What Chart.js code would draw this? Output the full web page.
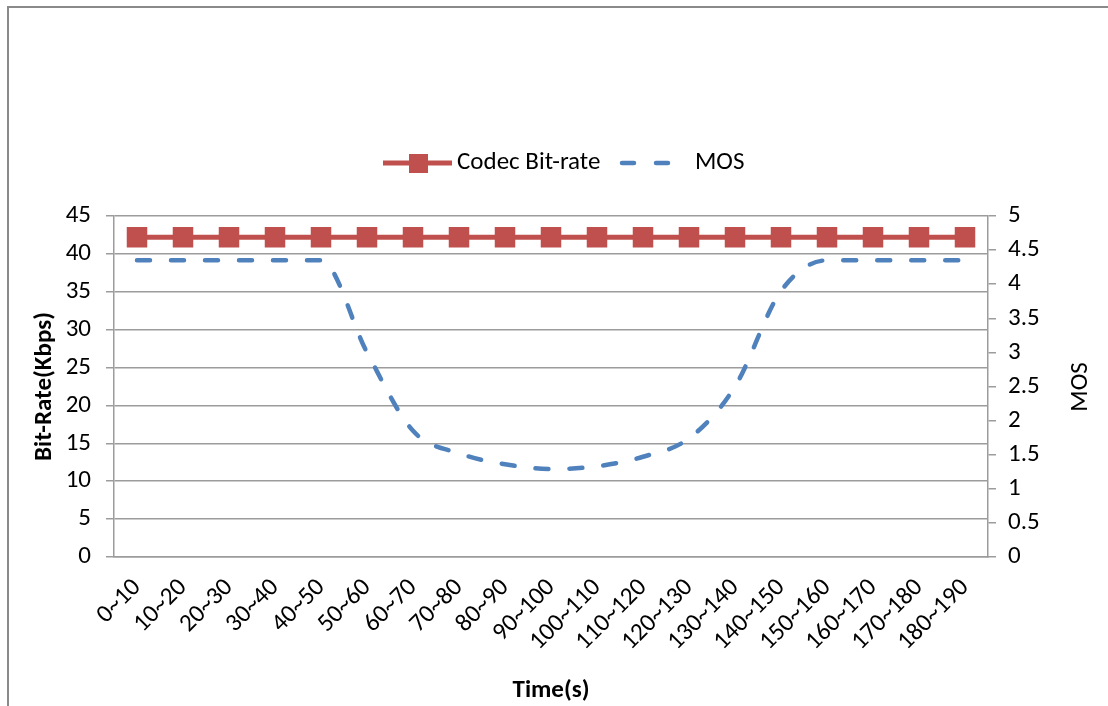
<!DOCTYPE html>
<html>
<head>
<meta charset="utf-8">
<script src="https://cdn.jsdelivr.net/npm/chart.js@4.4.0/dist/chart.umd.min.js"></script>
<style>
  html, body { margin: 0; padding: 0; background: #fff; }
  #wrap { position: relative; width: 1108px; height: 706px; }
</style>
</head>
<body>
<div id="wrap"><canvas id="c" width="1108" height="706"></canvas></div>
<script>
// Time windows (seconds)
const timeLabels = ['0~10', '10~20', '20~30', '30~40', '40~50', '50~60', '60~70', '70~80', '80~90',
  '90~100', '100~110', '110~120', '120~130', '130~140', '140~150', '150~160', '160~170',
  '170~180', '180~190'];

// Codec bit-rate per window (Kbps)
const bitRate = [42.2, 42.2, 42.2, 42.2, 42.2, 42.2, 42.2, 42.2, 42.2, 42.2,
  42.2, 42.2, 42.2, 42.2, 42.2, 42.2, 42.2, 42.2, 42.2];

// Mean opinion score per window
const mos = [4.35, 4.35, 4.35, 4.35, 4.35, 3.0, 1.85, 1.52, 1.36, 1.29,
  1.33, 1.47, 1.74, 2.5, 3.9, 4.35, 4.35, 4.35, 4.35];

const leftTicks = [0, 5, 10, 15, 20, 25, 30, 35, 40, 45];
const rightTicks = [0, 0.5, 1, 1.5, 2, 2.5, 3, 3.5, 4, 4.5, 5];

const RED = '#C0504D';
const BLUE = '#4F81BD';
const GRID = '#9c9c9c';
const FONT = 'Carlito, Lato, "Open Sans", sans-serif';
const FS = 25;

// Outer frame, legend and the right-hand axis title
const decorations = {
  id: 'decorations',
  afterDraw(chart) {
    const ctx = chart.ctx;
    ctx.save();
    // frame
    ctx.fillStyle = '#8a8a8a';
    ctx.fillRect(7, 6, 1101, 2);
    ctx.fillRect(7, 6, 2, 700);

    // legend
    const ly = 163;
    ctx.strokeStyle = RED;
    ctx.lineWidth = 5;
    ctx.beginPath(); ctx.moveTo(383, ly); ctx.lineTo(452, ly); ctx.stroke();
    ctx.fillStyle = RED;
    ctx.fillRect(409, ly - 9, 19, 19);
    ctx.fillStyle = '#000';
    ctx.font = FS + 'px ' + FONT;
    ctx.textBaseline = 'middle';
    ctx.textAlign = 'left';
    ctx.fillText('Codec Bit-rate', 457, ly);

    ctx.strokeStyle = BLUE;
    ctx.lineWidth = 4.5;
    ctx.lineCap = 'round';
    ctx.setLineDash([12, 22]);
    ctx.beginPath(); ctx.moveTo(622, ly); ctx.lineTo(672, ly); ctx.stroke();
    ctx.setLineDash([]);
    ctx.fillStyle = '#000';
    ctx.fillText('MOS', 695, ly);

    // right axis title, reading upward
    ctx.translate(1081, 387);
    ctx.rotate(-Math.PI / 2);
    ctx.textAlign = 'center';
    ctx.fillText('MOS', 0, 0);
    ctx.restore();
  }
};

new Chart(document.getElementById('c'), {
  type: 'line',
  data: {
    labels: timeLabels,
    datasets: [
      {
        label: 'Codec Bit-rate',
        data: bitRate,
        yAxisID: 'y',
        borderColor: RED,
        backgroundColor: RED,
        borderWidth: 5,
        pointStyle: 'rect',
        pointRadius: 14.5,
        pointBorderWidth: 0,
        pointBackgroundColor: RED,
        tension: 0,
        order: 1
      },
      {
        label: 'MOS',
        data: mos,
        yAxisID: 'y1',
        borderColor: BLUE,
        borderWidth: 4.5,
        borderDash: [13, 21],
        borderCapStyle: 'round',
        pointRadius: 0,
        cubicInterpolationMode: 'monotone',
        order: 2
      }
    ]
  },
  options: {
    responsive: false,
    animation: false,
    devicePixelRatio: 1,
    layout: { padding: { top: 216, left: 0, right: 0, bottom: 0 } },
    plugins: {
      legend: { display: false },
      tooltip: { enabled: false }
    },
    scales: {
      x: {
        offset: true,
        grid: { display: false, drawTicks: false },
        border: { display: true, color: GRID, width: 1.5 },
        ticks: {
          color: '#000',
          font: { family: FONT, size: FS },
          maxRotation: 45,
          minRotation: 45,
          autoSkip: false,
          padding: 16
        },
        title: {
          display: true,
          text: 'Time(s)',
          color: '#000',
          font: { family: FONT, size: FS, weight: 'bold' },
          padding: { top: 5, bottom: 0 }
        },
        afterFit(scale) { scale.height = 149; }
      },
      y: {
        position: 'left',
        min: 0,
        max: 45,
        afterBuildTicks(scale) { scale.ticks = leftTicks.map(v => ({ value: v })); },
        grid: { color: GRID, lineWidth: 1.5, tickLength: 8, drawTicks: true },
        border: { display: true, color: GRID, width: 1.5 },
        ticks: {
          color: '#000',
          font: { family: FONT, size: FS },
          padding: 15
        },
        title: {
          display: true,
          text: 'Bit-Rate(Kbps)',
          color: '#000',
          font: { family: FONT, size: FS, weight: 'bold' },
          padding: { top: 30, bottom: 0 }
        },
        afterFit(scale) { scale.width = 114; }
      },
      y1: {
        position: 'right',
        min: 0,
        max: 5,
        afterBuildTicks(scale) { scale.ticks = rightTicks.map(v => ({ value: v })); },
        grid: { display: true, drawOnChartArea: false, color: GRID, lineWidth: 1.5, tickLength: 8 },
        border: { display: true, color: GRID, width: 1.5 },
        ticks: {
          color: '#000',
          font: { family: FONT, size: FS },
          padding: 12,
          callback: v => String(v)
        },
        afterFit(scale) { scale.width = 120; }
      }
    }
  },
  plugins: [decorations]
});
</script>
</body>
</html>
